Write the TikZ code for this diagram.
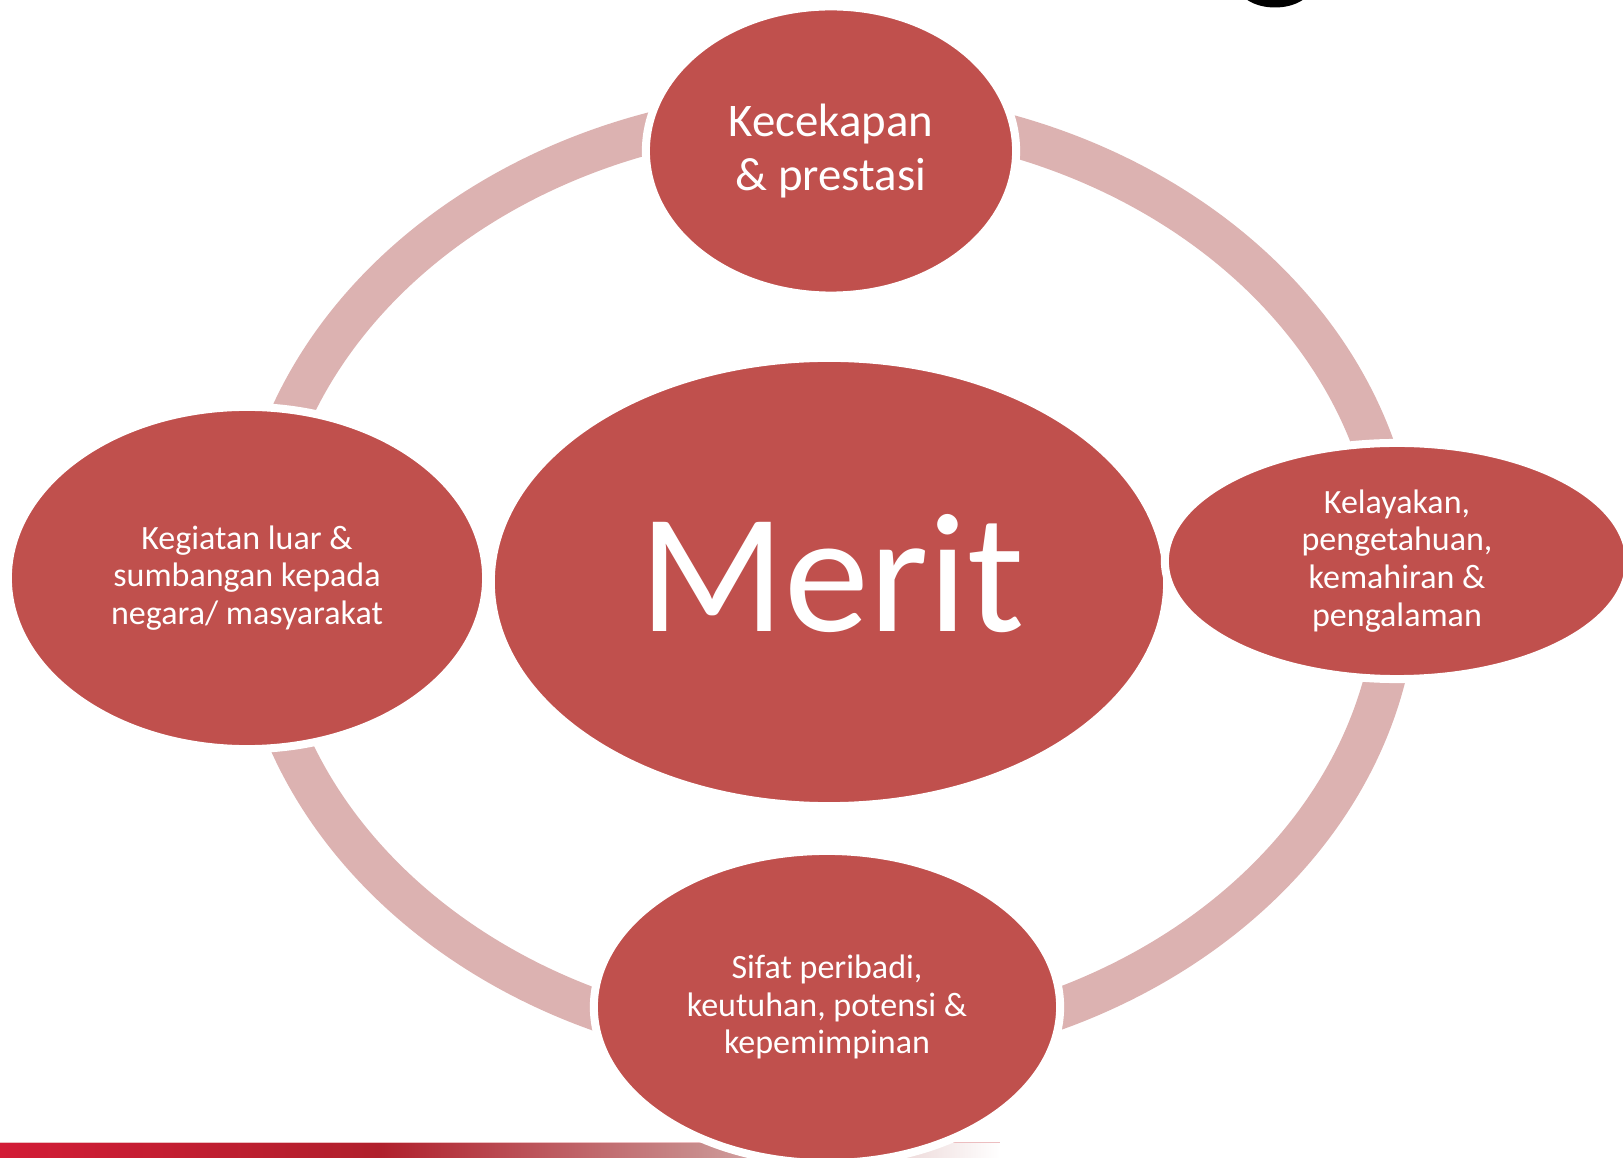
\documentclass[tikz,border=0pt]{standalone}
\usepackage{fontspec}
\setmainfont{Carlito}
\usetikzlibrary{shapes.geometric}
\definecolor{ellred}{HTML}{C0504D}
\definecolor{ringpink}{RGB}{220,178,177}
\definecolor{barA}{RGB}{210,28,54}
\definecolor{barB}{RGB}{176,32,44}
\definecolor{barC}{RGB}{200,140,140}
\definecolor{barLine}{RGB}{236,190,192}
\begin{document}
\begin{tikzpicture}[x=0.01cm,y=-0.01cm,
  bubble/.style={ellipse, fill=ellred, draw=white, line width=0.08cm, inner sep=0pt, text=white, align=center},
  smalltext/.style={font=\fontsize{9.67pt}{10.75pt}\selectfont},
  bigtext/.style={font=\fontsize{13.3pt}{15.1pt}\selectfont},
  ringstyle/.style={draw=ringpink, line width=0.41cm},
  labeltext/.style={text=white, inner sep=0pt}
  ]
\useasboundingbox (0,0) rectangle (1623,1158);
\begin{scope}
\clip (0,0) rectangle (1623,1158);
% bottom bar
\shade[left color=barA, right color=barB] (0,1143) rectangle (380,1158);
\shade[left color=barB, right color=barC] (380,1143) rectangle (700,1158);
\shade[left color=barC, right color=white] (700,1143) rectangle (1000,1158);
\draw[barLine, line width=0.01cm] (0,1143) -- (1000,1143);
% cropped black glyph at top
\fill[black] (1275,-15) ellipse [x radius=37, y radius=22.5];
% ring
\path[ringstyle] (826,580) ellipse [x radius=571.5, y radius=469.5];
% nodes
\node[bubble, minimum width=6.76cm, minimum height=4.48cm] (merit) at (829,582) {};
\node[labeltext, font=\fontsize{48.4pt}{50pt}\selectfont] (merittext) at (832,574) {Merit};
\node[bubble, bigtext, minimum width=3.70cm, minimum height=2.89cm] (top) at (831,151) {Kecekapan\\\& prestasi};
\node[bubble, smalltext, minimum width=4.78cm, minimum height=3.42cm] (left) at (247,578) {Kegiatan luar \&\\sumbangan kepada\\negara/ masyarakat};
\node[bubble, smalltext, minimum width=4.64cm, minimum height=2.36cm] (right) at (1397,561) {Kelayakan,\\pengetahuan,\\kemahiran \&\\pengalaman};
\node[bubble, smalltext, minimum width=4.66cm, minimum height=3.12cm] (bottom) at (827,1007) {Sifat peribadi,\\keutuhan, potensi \&\\kepemimpinan};
\end{scope}
\end{tikzpicture}
\end{document}
